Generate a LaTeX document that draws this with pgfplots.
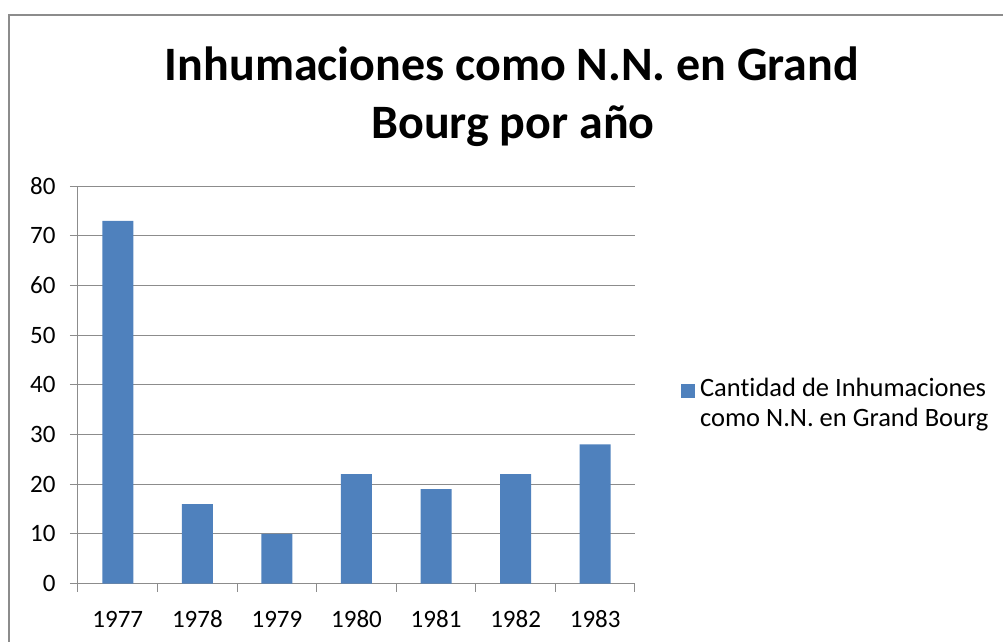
\documentclass[border=0pt]{standalone}
\usepackage{fontspec}
\setmainfont{Carlito}[Ligatures={NoCommon}]
\usepackage{pgfplots}
\pgfplotsset{compat=1.18}
\definecolor{barblue}{HTML}{4F81BD}
\definecolor{gridgray}{HTML}{8C8C8C}
\begin{document}
\begin{tikzpicture}
\begin{axis}[scale only axis,
  width=557pt, height=397.5pt,
  xmin=0.5, xmax=7.5, ymin=0, ymax=80,
  ytick={0,10,...,80},
  xtick={1,...,7}, xticklabels={1977,1978,1979,1980,1981,1982,1983},
  minor xtick={0.5,1.5,...,7.5},
  axis lines*=left, axis line style={-, draw=gridgray, line width=1pt},
  ymajorgrids, grid style={gridgray, line width=1pt},
  tick align=outside, major tick length=8pt, minor tick length=8pt,
  tick style={gridgray, line width=1pt},
  major x tick style={draw=none},
  /pgf/number format/assume math mode=true,
  ticklabel style={font=\fontsize{25}{30}\selectfont, text=black},
  xticklabel style={anchor=base, yshift=-35.5pt},
  yticklabel style={xshift=-11pt},
  legend style={draw=none, fill=none, at={(1.077,0.453)}, anchor=west,
    font=\fontsize{26.5}{30}\selectfont, nodes={align=left, inner xsep=5pt, inner ysep=1pt}},
  legend image code/.code={\fill[barblue] (0pt,5.5pt) rectangle (14pt,19.5pt);},
]
\addplot[ybar, bar width=31pt, fill=barblue, draw=none] coordinates {
  (1,73) (2,16) (3,10) (4,22) (5,19) (6,22) (7,28)
};
\addlegendentry{Cantidad de Inhumaciones\\como N.N. en Grand Bourg}
\coordinate (O) at (rel axis cs:0,0);
\end{axis}
\pgfresetboundingbox
\begin{scope}[shift={(O)}, x=1pt, y=1pt]
\path[use as bounding box] (-78,-57.5) rectangle (925,583.5);
\draw[gridgray, line width=2.2pt] (-69,-60) -- (-69,568.5) -- (935,568.5);
\node[font=\fontsize{48}{56}\selectfont\bfseries, anchor=base, inner sep=0pt] at (434,502.5) {Inhumaciones como N.N. en Grand};
\node[font=\fontsize{48}{56}\selectfont\bfseries, anchor=base, inner sep=0pt] at (435,444.5) {Bourg por año};
\end{scope}
\end{tikzpicture}
\end{document}
